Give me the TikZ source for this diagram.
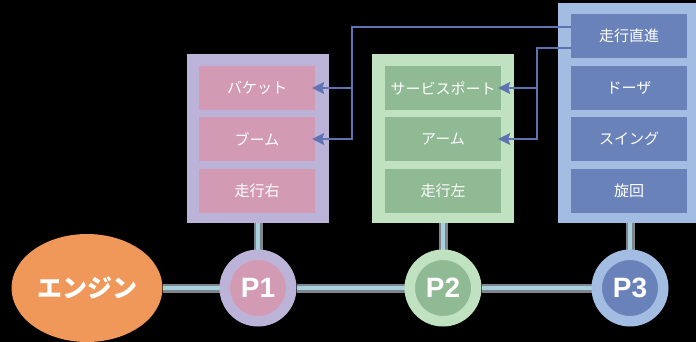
\documentclass[tikz,border=0pt]{standalone}
\usepackage{fontspec}
\newfontfamily\jp{Noto Sans CJK JP}
\newfontfamily\lat{Liberation Sans}
\usetikzlibrary{arrows.meta,backgrounds,shapes.geometric}
\definecolor{bg}{HTML}{000000}
\definecolor{purp}{HTML}{BCB4D8}
\definecolor{pink}{HTML}{D39BB3}
\definecolor{lgreen}{HTML}{C0E2C0}
\definecolor{dgreen}{HTML}{8FBA93}
\definecolor{lblue}{HTML}{A2BCE2}
\definecolor{dblue}{HTML}{6A82BA}
\definecolor{orng}{HTML}{F0985A}
\definecolor{arrc}{HTML}{5F72B2}
\definecolor{pipeg}{HTML}{80868C}
\definecolor{pipeb}{HTML}{A6D2E0}
\tikzset{
  panel/.style={rectangle, minimum width=142pt, inner sep=0pt},
  box/.style={rectangle, minimum width=116pt, minimum height=44pt, inner sep=0pt, text=white, font=\jp\fontsize{15}{15}\selectfont},
  pump/.style={circle, minimum size=66.5pt, line width=10.5pt, inner sep=0pt, text=white, font=\lat\bfseries\fontsize{28}{28}\selectfont},
  pipe/.style={line width=9pt, pipeg},
  pipein/.style={line width=3.5pt, pipeb},
  conn/.style={arrc, line width=2pt},
  arr/.style={conn, -{Stealth[length=12pt,width=12pt,inset=2pt]}, shorten >=-3pt},
}
\begin{document}
\begin{tikzpicture}[x=1pt,y=-1pt]
\useasboundingbox (0,0) rectangle (696,342);
% panels
\node[panel, fill=purp, minimum height=169pt] (L) at (257.5,138.5) {};
\node[panel, fill=lgreen, minimum height=169pt] (M) at (443,138.5) {};
\node[panel, fill=lblue, minimum height=220pt] (R) at (629,113) {};
% boxes
\node[box, fill=pink] (b1) at (257,88) {バケット};
\node[box, fill=pink] (b2) at (257,139) {ブーム};
\node[box, fill=pink] (b3) at (257,191) {走行右};
\node[box, fill=dgreen] (g1) at (443,88) {サービスポート};
\node[box, fill=dgreen] (g2) at (443,139) {アーム};
\node[box, fill=dgreen] (g3) at (443,191) {走行左};
\node[box, fill=dblue] (r1) at (629,36) {走行直進};
\node[box, fill=dblue] (r2) at (629,88) {ドーザ};
\node[box, fill=dblue] (r3) at (629,139) {スイング};
\node[box, fill=dblue] (r4) at (629,191) {旋回};
% engine and pumps
\node[ellipse, fill=orng, minimum width=151pt, minimum height=108pt, inner sep=0pt, text=white, font=\jp\bfseries\fontsize{25}{25}\selectfont] (E) at (87,288) {エンジン};
\node[pump, draw=purp, fill=pink] (P1) at (258,288) {P1};
\node[pump, draw=lgreen, fill=dgreen] (P2) at (443,288) {P2};
\node[pump, draw=lblue, fill=dblue] (P3) at (630,288) {P3};
% connectors
\coordinate (j1) at (352,27);
\coordinate (j2) at (537,48);
\draw[conn] (r1.west |- j1) -- (j1) -- (j1 |- b1.east);
\draw[arr] (j1 |- b1.east) -- (b1.east);
\draw[arr] (j1 |- b1.east) |- (b2.east);
\draw[conn] (r1.west |- j2) -- (j2) -- (j2 |- g1.east);
\draw[arr] (j2 |- g1.east) -- (g1.east);
\draw[arr] (j2 |- g1.east) |- (g2.east);
\begin{scope}[on background layer]
\fill[bg] (0,0) rectangle (696,342);
\foreach \a/\b in {E/P1,P1/P2,P2/P3}{
  \draw[pipe] (\a) -- (\b);
  \draw[pipein] (\a) -- (\b);
}
\foreach \a/\b in {L/P1,M/P2,R/P3}{
  \draw[pipe] (\a.south -| \b) -- (\b);
  \draw[pipein] (\a.south -| \b) -- (\b);
}
\end{scope}
\end{tikzpicture}
\end{document}
